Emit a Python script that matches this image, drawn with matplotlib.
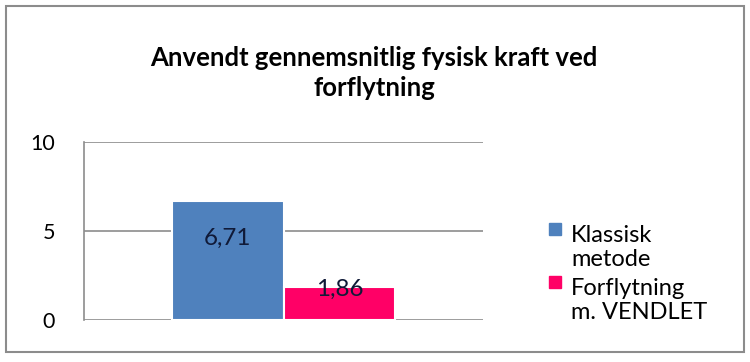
import matplotlib
matplotlib.use("Agg")
import matplotlib.pyplot as plt
from matplotlib.patches import Rectangle

# Data
series = ["Klassisk\nmetode", "Forflytning\nm. VENDLET"]
values = [6.71, 1.86]
value_labels = ["6,71", "1,86"]
label_y = [4.6, 1.7]
colors = ["#4F81BD", "#FF0066"]
yticks = [0, 5, 10]
title = "Anvendt gennemsnitlig fysisk kraft ved\nforflytning"

plt.rcParams["font.family"] = ["Lato", "DejaVu Sans"]

fig = plt.figure(figsize=(7.5, 3.62), dpi=100)

# outer chart frame
fig.patches.append(Rectangle((6 / 750, 10 / 362), 738 / 750, 346 / 362, transform=fig.transFigure,
                             fill=False, edgecolor="#8c8c8c", linewidth=1.5))

ax = fig.add_axes([84 / 750, 42 / 362, 399 / 750, 178 / 362])
width = 0.28
offsets = [-width / 2, width / 2]
for i, (v, c) in enumerate(zip(values, colors)):
    ax.bar(offsets[i], v, width=width, color=c, edgecolor="white", linewidth=1.5, zorder=3)
    ax.text(offsets[i], label_y[i], value_labels[i], ha="center", va="center",
            fontsize=17.5, color="#101a38", zorder=4)

ax.set_xlim(-0.5, 0.5)
ax.set_ylim(0, 10)
ax.set_yticks(yticks)
ax.set_xticks([])
ax.tick_params(axis="y", length=0, pad=21, labelsize=15.5)
for s in ["top", "right", "bottom"]:
    ax.spines[s].set_visible(False)
ax.spines["left"].set_color("#8c8c8c")
ax.spines["left"].set_linewidth(1.2)
ax.yaxis.grid(True, color="#8c8c8c", linewidth=1.2, zorder=0)
ax.set_axisbelow(True)
ax.patch.set_alpha(0)

fig.text(374 / 750, 1 - 73 / 362, title, ha="center", va="center", fontsize=18.5,
         fontweight="bold", linespacing=1.35)

# legend
legend_base = [242, 295]
for name, c, y in zip(series, colors, legend_base):
    fig.patches.append(Rectangle((549 / 750, 1 - (y - 7) / 362), 12 / 750, 12 / 362,
                                 transform=fig.transFigure, color=c))
    for k, line in enumerate(name.split("\n")):
        fig.text(571 / 750, 1 - (y + 24 * k) / 362, line, ha="left", va="baseline",
                 fontsize=17)

fig.savefig("out.png", dpi=100)
